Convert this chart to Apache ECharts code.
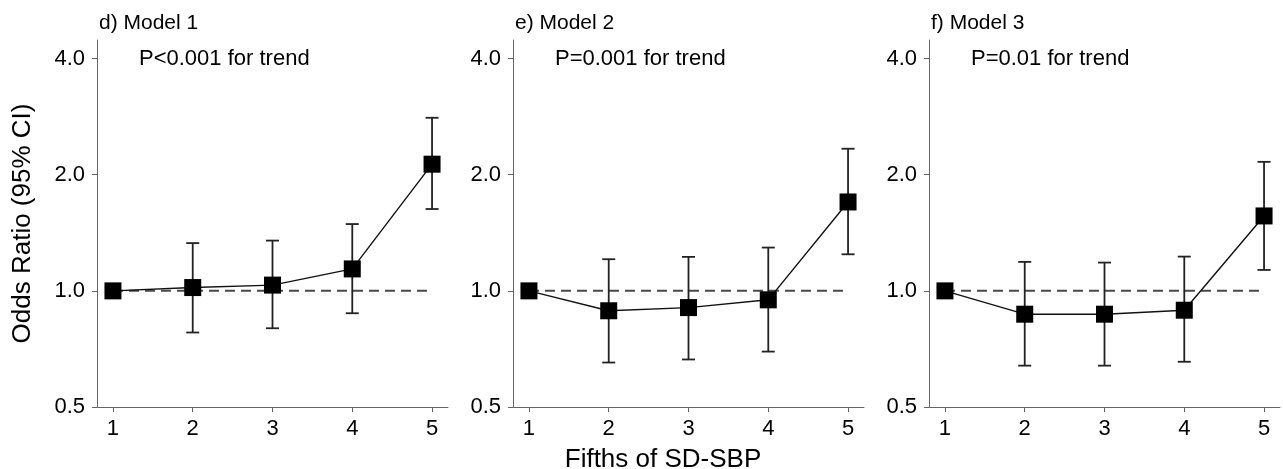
<!DOCTYPE html>
<html>
<head>
<meta charset="utf-8">
<script src="https://cdn.jsdelivr.net/npm/echarts@6/dist/echarts.min.js"></script>
<style>
  html, body { margin: 0; padding: 0; background: #fff; }
  #chart { width: 1283px; height: 469px; }
</style>
</head>
<body>
<div id="chart"></div>
<script>
// fifths of SD-SBP (x) and y tick values
const fifths = [1, 2, 3, 4, 5];
const yTicks = [0.5, 1, 2, 4];
const panelNames = ["d) Model 1", "e) Model 2", "f) Model 3"];
const trendLabels = ["P<0.001 for trend", "P=0.001 for trend", "P=0.01 for trend"];

// odds ratios and 95% CI (first fifth is the reference)
const model1Or = [1.0, 1.02, 1.035, 1.14, 2.13];
const model1Lo = [null, 0.78, 0.80, 0.875, 1.63];
const model1Hi = [null, 1.33, 1.35, 1.49, 2.81];

const model2Or = [1.0, 0.888, 0.905, 0.948, 1.70];
const model2Lo = [null, 0.652, 0.664, 0.696, 1.244];
const model2Hi = [null, 1.208, 1.225, 1.295, 2.336];

const model3Or = [1.0, 0.87, 0.87, 0.891, 1.564];
const model3Lo = [null, 0.64, 0.64, 0.655, 1.133];
const model3Hi = [null, 1.189, 1.184, 1.227, 2.16];

const models = [
  { or: model1Or, lo: model1Lo, hi: model1Hi },
  { or: model2Or, lo: model2Lo, hi: model2Hi },
  { or: model3Or, lo: model3Lo, hi: model3Hi },
];

const font = "'Liberation Sans', Arial, sans-serif";
const gridLefts = [97, 513, 929];
const axisGray = "#666";

const chart = echarts.init(document.getElementById("chart"));

const grid = [];
const xAxis = [];
const yAxis = [];
const series = [];
const graphic = [];

models.forEach((m, i) => {
  grid.push({ left: gridLefts[i], top: 40, width: 351, height: 367 });

  xAxis.push({
    type: "value",
    gridIndex: i,
    min: 0.8,
    max: 5.2,
    splitLine: { show: false },
    axisLine: { lineStyle: { color: axisGray, width: 1 } },
    axisTick: { length: 5, lineStyle: { color: axisGray }, customValues: fifths },
    axisLabel: {
      customValues: fifths,
      color: "#000",
      fontSize: 22,
      fontFamily: font,
      margin: 11,
    },
  });

  yAxis.push({
    type: "log",
    logBase: 2,
    gridIndex: i,
    min: 0.5,
    max: 4.47,
    splitLine: { show: false },
    axisLine: { show: true, lineStyle: { color: axisGray, width: 1 } },
    axisTick: { show: true, length: 5, lineStyle: { color: axisGray }, customValues: yTicks },
    axisLabel: {
      customValues: yTicks,
      color: "#000",
      fontSize: 22,
      fontFamily: font,
      margin: 12,
      formatter: (v) => Number(v).toFixed(1),
    },
    name: i === 0 ? "Odds Ratio (95% CI)" : "",
    nameLocation: "middle",
    nameGap: 61,
    nameTextStyle: { color: "#000", fontSize: 26, fontFamily: font },
  });

  // reference line at OR = 1
  series.push({
    type: "line",
    xAxisIndex: i,
    yAxisIndex: i,
    data: [[fifths[0], 1], [fifths[fifths.length - 1], 1]],
    symbol: "none",
    silent: true,
    lineStyle: { color: "#4a4a4a", width: 2, type: [10, 6] },
    z: 1,
  });

  // confidence intervals
  const ciData = [];
  fifths.forEach((f, k) => {
    if (m.lo[k] != null) ciData.push([f, m.lo[k], m.hi[k]]);
  });
  series.push({
    type: "custom",
    xAxisIndex: i,
    yAxisIndex: i,
    data: ciData,
    encode: { x: 0, y: [1, 2] },
    silent: true,
    z: 2,
    renderItem: (params, api) => {
      const x = api.value(0);
      const lo = api.coord([x, api.value(1)]);
      const hi = api.coord([x, api.value(2)]);
      const cap = 6.5;
      const style = { stroke: "#222", lineWidth: 1.8 };
      return {
        type: "group",
        children: [
          { type: "line", shape: { x1: hi[0], y1: hi[1], x2: lo[0], y2: lo[1] }, style },
          { type: "line", shape: { x1: hi[0] - cap, y1: hi[1], x2: hi[0] + cap, y2: hi[1] }, style },
          { type: "line", shape: { x1: lo[0] - cap, y1: lo[1], x2: lo[0] + cap, y2: lo[1] }, style },
        ],
      };
    },
  });

  // odds ratio points
  series.push({
    type: "line",
    xAxisIndex: i,
    yAxisIndex: i,
    data: fifths.map((f, k) => [f, m.or[k]]),
    symbol: "rect",
    symbolSize: 17,
    itemStyle: { color: "#000" },
    lineStyle: { color: "#111", width: 1.4 },
    z: 3,
  });

  graphic.push({
    type: "text",
    left: gridLefts[i] + 2,
    top: 13,
    style: { text: panelNames[i], fill: "#000", font: "21px " + font },
  });
  graphic.push({
    type: "text",
    left: gridLefts[i] + 42,
    top: 48,
    style: { text: trendLabels[i], fill: "#000", font: "22px " + font },
  });
});

graphic.push({
  type: "text",
  x: 663,
  y: 460,
  style: {
    text: "Fifths of SD-SBP",
    fill: "#000",
    font: "26px " + font,
    align: "center",
    verticalAlign: "middle",
  },
});

chart.setOption({
  backgroundColor: "#fff",
  animation: false,
  grid,
  xAxis,
  yAxis,
  series,
  graphic,
});

window.addEventListener("resize", () => chart.resize());
</script>
</body>
</html>
